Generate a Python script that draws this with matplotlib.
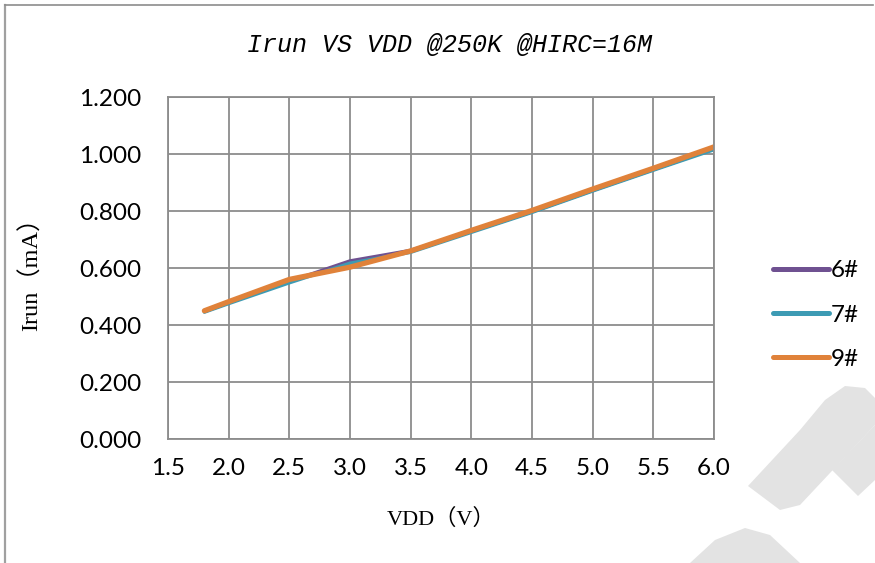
import matplotlib.pyplot as plt
from matplotlib.lines import Line2D
from matplotlib.patches import Polygon

# data
vdd = [1.8, 2.0, 2.5, 3.0, 3.5, 4.0, 4.5, 5.0, 5.5, 6.0]
irun_6 = [0.447, 0.478, 0.553, 0.625, 0.662, 0.728, 0.797, 0.872, 0.945, 1.018]
irun_7 = [0.445, 0.475, 0.548, 0.617, 0.655, 0.725, 0.795, 0.870, 0.943, 1.015]
irun_9 = [0.450, 0.482, 0.560, 0.603, 0.660, 0.732, 0.802, 0.877, 0.950, 1.025]
series = [("6#", irun_6, "#6f5191", 2.4), ("7#", irun_7, "#3d9bb4", 2.4), ("9#", irun_9, "#e0823a", 3.8)]

tick_font = "Lato"
label_font = ["Liberation Serif", "Noto Sans CJK SC"]

fig = plt.figure(figsize=(8.75, 5.63), dpi=100)
ax = fig.add_axes([0.192, 0.2202, 0.624, 0.6075])

# watermark shapes (light gray, behind everything)
W, H = 875, 563
def px(pts):
    return [(x / W, 1 - y / H) for x, y in pts]
wm = "#e3e3e3"
fig.patches.append(Polygon(px([(748, 486), (800, 430), (825, 400), (845, 386), (865, 388), (875, 398),
                               (875, 425), (800, 505), (780, 510)]), closed=True, transform=fig.transFigure,
                           facecolor=wm, edgecolor="none", zorder=0))
fig.patches.append(Polygon(px([(832, 470), (875, 425), (875, 480), (858, 496)]), closed=True,
                           transform=fig.transFigure, facecolor=wm, edgecolor="none", zorder=0))
fig.patches.append(Polygon(px([(690, 563), (715, 540), (745, 528), (770, 535), (800, 563)]), closed=True,
                           transform=fig.transFigure, facecolor=wm, edgecolor="none", zorder=0))

for name, vals, color, lw in series:
    ax.plot(vdd, vals, color=color, lw=lw, solid_capstyle="round", label=name)

ax.set_xlim(1.5, 6.0)
ax.set_ylim(0, 1.2)
ax.set_xticks([1.5, 2.0, 2.5, 3.0, 3.5, 4.0, 4.5, 5.0, 5.5, 6.0])
ax.set_yticks([0, 0.2, 0.4, 0.6, 0.8, 1.0, 1.2])
ax.set_xticklabels([f"{v:.1f}" for v in ax.get_xticks()], fontfamily=tick_font, fontsize=17.5)
ax.set_yticklabels([f"{v:.3f}" for v in ax.get_yticks()], fontfamily=tick_font, fontsize=17.5)
ax.tick_params(axis="y", length=0, pad=19)
ax.tick_params(axis="x", length=0, pad=14)
ax.grid(True, color="#8c8c8c", lw=1.3)
for s in ax.spines.values():
    s.set_color("#8c8c8c")
    s.set_linewidth(1.3)
ax.set_axisbelow(True)

ax.set_xlabel("VDD（V）", family=label_font, fontsize=16, labelpad=21)
ax.set_ylabel("Irun（mA）", family=label_font, fontsize=17.5, labelpad=26)
fig.text(0.514, 0.92, "Irun VS VDD @250K @HIRC=16M", ha="center", va="center",
         family="Liberation Mono", style="italic", fontsize=18)

leg = ax.legend(loc="center left", frameon=False,
                prop={"family": tick_font, "size": 17.5}, handlelength=2.3,
                labelspacing=0.95, handletextpad=0.1, borderaxespad=0.0)
leg.set_bbox_to_anchor((1.09, 0.3626), transform=ax.transAxes)
for h in leg.legend_handles:
    h.set_linewidth(3.6)

# partial outer border (top and left visible in the source)
fig.add_artist(Line2D([5 / W, 5 / W], [0, 1 - 5 / H], transform=fig.transFigure, color="#a0a0a0", lw=1.6))
fig.add_artist(Line2D([5 / W, 873 / W], [1 - 5 / H, 1 - 5 / H], transform=fig.transFigure, color="#8c8c8c", lw=1.2))

fig.savefig("out.png", dpi=100)
